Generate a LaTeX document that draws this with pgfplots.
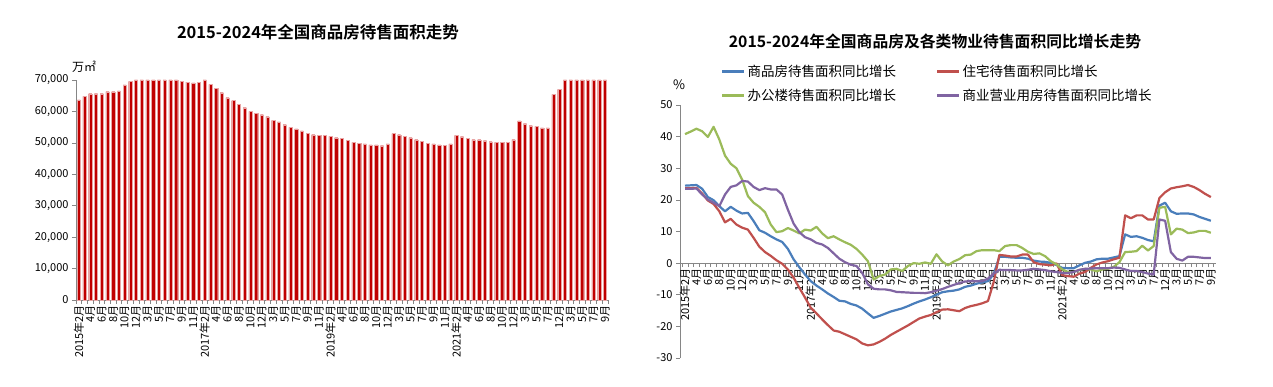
\documentclass[border=0pt]{standalone}
\usepackage{pgfplots}
\pgfplotsset{compat=1.18}
\usepackage{fontspec}
\setmainfont{Noto Sans CJK SC}[BoldFont={Noto Sans CJK SC Bold}]
\definecolor{barred}{RGB}{192,0,0}
\definecolor{sblue}{RGB}{74,126,187}
\definecolor{sred}{RGB}{192,80,77}
\definecolor{sgreen}{RGB}{155,187,89}
\definecolor{spurple}{RGB}{128,100,162}
\definecolor{axgray}{RGB}{134,134,134}
\begin{document}
\begin{tikzpicture}[x=1pt,y=1pt]
\path (0,0) rectangle (1273,386);
% ---------------- left chart
\begin{axis}[at={(76pt,86pt)}, anchor=south west, scale only axis,
  width=533pt, height=220pt,
  xmin=-0.5, xmax=92.7, ymin=0, ymax=70000,
  axis x line*=bottom, axis y line*=left,
  axis line style={draw=axgray, line width=0.8pt},
  ytick={0,10000,...,70000}, scaled y ticks=false,
  yticklabel style={font=\fontsize{11}{11}\selectfont, /pgf/number format/fixed, /pgf/number format/1000 sep={,}, /pgf/number format/assume math mode=true},
  xtick={0,2,...,92},
  xticklabels={2015年2月,4月,6月,8月,10月,12月,3月,5月,7月,9月,11月,
    2017年2月,4月,6月,8月,10月,12月,3月,5月,7月,9月,11月,
    2019年2月,4月,6月,8月,10月,12月,3月,5月,7月,9月,11月,
    2021年2月,4月,6月,8月,10月,12月,3月,5月,7月,12月,3月,5月,7月,9月},
  xticklabel style={rotate=90, anchor=east, font=\fontsize{11}{11}\selectfont, inner sep=1pt},
  minor xtick={-0.5,0.5,...,92.5},
  major x tick style={draw=none},
  tick style={draw=axgray, line width=0.6pt},
  tick align=outside, major tick length=4pt, minor tick length=4pt,
  clip=true]
\addplot[ybar, bar width=3.2pt, fill=barred, draw=barred!35, line width=0.3pt] coordinates {
(0,63700)(1,64800)(2,65650)(3,65650)(4,65650)(5,66290)(6,66290)(7,66500)(8,68410)(9,69580)
(10,70000)(11,70000)(12,70000)(13,70000)(14,70000)(15,70000)(16,70000)(17,70000)(18,69580)(19,69360)
(20,69050)(21,69360)(22,70000)(23,68620)(24,67350)(25,65970)(26,64380)(27,63430)(28,62260)(29,61200)
(30,60030)(31,59400)(32,58970)(33,58330)(34,57170)(35,56640)(36,55790)(37,54940)(38,54410)(39,53780)
(40,52930)(41,52610)(42,52400)(43,52400)(44,52080)(45,51650)(46,51340)(47,50810)(48,50170)(49,49850)
(50,49640)(51,49320)(52,49320)(53,49110)(54,49640)(55,52930)(56,52610)(57,52180)(58,51650)(59,51020)
(60,50490)(61,49850)(62,49640)(63,49320)(64,49220)(65,49640)(66,52400)(67,51970)(68,51340)(69,51020)
(70,51020)(71,50700)(72,50380)(73,50170)(74,50170)(75,50170)(76,51020)(77,56960)(78,56110)(79,55470)
(80,55260)(81,54730)(82,54730)(83,65440)(84,67030)(85,70000)(86,70000)(87,70000)(88,70000)(89,70000)
(90,70000)(91,70000)(92,70000)};
\end{axis}
\node[font=\fontsize{16.5}{16.5}\selectfont\bfseries] at (318,354) {2015-2024年全国商品房待售面积走势};
\node[font=\fontsize{12}{12}\selectfont] at (84,319) {万㎡};
% ---------------- right chart
\begin{axis}[at={(680pt,28pt)}, anchor=south west, scale only axis,
  width=536pt, height=253pt,
  xmin=-0.875, xmax=92.9, ymin=-30, ymax=50,
  axis x line*=middle, axis y line*=left,
  axis line style={draw=axgray, line width=0.8pt},
  ytick={-30,-20,...,50},
  yticklabel style={font=\fontsize{11}{11}\selectfont, /pgf/number format/assume math mode=true},
  xtick={0,2,...,92},
  xticklabels={2015年2月,4月,6月,8月,10月,12月,3月,5月,7月,9月,11月,
    2017年2月,4月,6月,8月,10月,12月,3月,5月,7月,9月,11月,
    2019年2月,4月,6月,8月,10月,12月,3月,5月,7月,9月,11月,
    2021年2月,4月,6月,8月,10月,12月,3月,5月,7月,12月,3月,5月,7月,9月},
  xticklabel style={rotate=90, anchor=east, font=\fontsize{11}{11}\selectfont, inner sep=1pt},
  minor xtick={-0.5,0.5,...,92.5},
  major x tick style={draw=none},
  tick style={draw=axgray, line width=0.6pt},
  tick align=outside, major tick length=4pt, minor tick length=4pt,
  legend columns=2,
  legend cell align=left,
  legend style={at={(axis description cs:0.071,1.175)}, anchor=north west, draw=none, fill=none,
    font=\fontsize{13.5}{15}\selectfont, row sep=7pt,
    /tikz/every even column/.append style={column sep=38pt}},
  legend image code/.code={\draw[#1, line width=2.4pt] (0pt,0pt) -- (22pt,0pt);},
  every axis plot/.append style={line width=2.2pt, line join=round}]
\addplot[sblue, mark=none] coordinates {
(0,24.5)(1,24.6)(2,24.7)(3,23.5)(4,20.9)(5,19.9)(6,18.0)(7,16.4)(8,17.8)(9,16.6)
(10,15.7)(11,15.9)(12,13.3)(13,10.4)(14,9.6)(15,8.5)(16,7.5)(17,6.7)(18,4.5)(19,1.2)
(20,-1.3)(21,-3.6)(22,-5.7)(23,-7.1)(24,-8.3)(25,-9.6)(26,-10.7)(27,-11.9)(28,-12.1)(29,-12.9)
(30,-13.4)(31,-14.4)(32,-15.9)(33,-17.3)(34,-16.7)(35,-16.0)(36,-15.3)(37,-14.8)(38,-14.3)(39,-13.6)
(40,-12.8)(41,-12.1)(42,-11.5)(43,-10.8)(44,-10.0)(45,-9.2)(46,-8.9)(47,-8.7)(48,-8.3)(49,-7.5)
(50,-7.1)(51,-6.5)(52,-6.1)(53,-5.7)(54,-3.5)(55,2.0)(56,2.0)(57,1.8)(58,1.7)(59,1.7)
(60,1.4)(61,0.8)(62,0.5)(63,0.4)(64,0.1)(65,-0.6)(66,-1.5)(67,-1.6)(68,-1.6)(69,-0.7)
(70,0.1)(71,0.5)(72,1.2)(73,1.4)(74,1.4)(75,1.8)(76,2.2)(77,9.1)(78,8.3)(79,8.5)
(80,8.0)(81,7.3)(82,6.9)(83,18.2)(84,19.1)(85,16.4)(86,15.6)(87,15.7)(88,15.7)(89,15.4)
(90,14.6)(91,14.0)(92,13.4)};
\addlegendentry{商品房待售面积同比增长}
\addplot[sred, mark=none] coordinates {
(0,23.7)(1,23.7)(2,23.8)(3,22.0)(4,19.8)(5,18.7)(6,16.4)(7,12.9)(8,14.0)(9,12.2)
(10,11.2)(11,10.6)(12,8.0)(13,5.2)(14,3.5)(15,2.3)(16,0.9)(17,-0.2)(18,-2.0)(19,-4.6)
(20,-7.8)(21,-10.9)(22,-14.1)(23,-15.9)(24,-17.8)(25,-19.6)(26,-21.3)(27,-21.7)(28,-22.5)(29,-23.3)
(30,-24.1)(31,-25.4)(32,-26.0)(33,-25.7)(34,-24.9)(35,-23.9)(36,-22.7)(37,-21.7)(38,-20.7)(39,-19.7)
(40,-18.6)(41,-17.5)(42,-16.9)(43,-16.4)(44,-15.5)(45,-14.7)(46,-14.6)(47,-14.9)(48,-15.2)(49,-14.2)
(50,-13.6)(51,-13.2)(52,-12.7)(53,-12.0)(54,-6.0)(55,2.6)(56,2.4)(57,2.1)(58,2.1)(59,2.7)
(60,2.7)(61,0.3)(62,-0.3)(63,-0.5)(64,-0.7)(65,-0.1)(66,-3.8)(67,-4.1)(68,-4.3)(69,-3.3)
(70,-2.8)(71,-1.5)(72,-0.4)(73,0.2)(74,0.6)(75,1.2)(76,1.7)(77,15.1)(78,14.2)(79,15.1)
(80,15.1)(81,13.8)(82,13.8)(83,20.6)(84,22.4)(85,23.6)(86,24.0)(87,24.3)(88,24.7)(89,24.1)
(90,23.1)(91,21.9)(92,20.9)};
\addlegendentry{住宅待售面积同比增长}
\addplot[sgreen, mark=none] coordinates {
(0,40.8)(1,41.6)(2,42.5)(3,41.7)(4,39.9)(5,43.1)(6,39.1)(7,34.0)(8,31.4)(9,30.0)
(10,26.4)(11,21.2)(12,19.1)(13,17.8)(14,16.1)(15,12.2)(16,9.8)(17,10.1)(18,11.1)(19,10.3)
(20,9.4)(21,10.6)(22,10.3)(23,11.5)(24,9.4)(25,7.9)(26,8.5)(27,7.5)(28,6.6)(29,5.8)
(30,4.5)(31,2.7)(32,0.6)(33,-5.2)(34,-4.1)(35,-3.6)(36,-2.0)(37,-1.8)(38,-2.5)(39,-0.9)
(40,0.0)(41,-0.2)(42,0.2)(43,-0.2)(44,2.8)(45,0.5)(46,-0.7)(47,0.5)(48,1.3)(49,2.5)
(50,2.7)(51,3.8)(52,4.1)(53,4.1)(54,4.1)(55,3.8)(56,5.4)(57,5.7)(58,5.7)(59,4.8)
(60,3.6)(61,2.9)(62,3.1)(63,2.2)(64,0.6)(65,-0.4)(66,-2.0)(67,-2.8)(68,-2.8)(69,-2.2)
(70,-1.8)(71,-2.0)(72,-2.6)(73,-2.0)(74,-1.8)(75,-1.2)(76,0.3)(77,3.5)(78,3.6)(79,3.8)
(80,5.5)(81,4.0)(82,5.4)(83,17.5)(84,17.8)(85,9.1)(86,10.9)(87,10.6)(88,9.5)(89,9.7)
(90,10.2)(91,10.2)(92,9.6)};
\addlegendentry{办公楼待售面积同比增长}
\addplot[spurple, mark=none] coordinates {
(0,23.5)(1,23.5)(2,23.6)(3,21.7)(4,20.1)(5,19.1)(6,18.0)(7,21.7)(8,24.1)(9,24.6)
(10,26.0)(11,25.8)(12,24.1)(13,23.1)(14,23.7)(15,23.3)(16,23.3)(17,21.7)(18,16.9)(19,12.5)
(20,9.8)(21,8.2)(22,7.5)(23,6.4)(24,5.9)(25,4.8)(26,3.1)(27,1.4)(28,0.3)(29,-0.5)
(30,-0.9)(31,-3.1)(32,-6.7)(33,-8.1)(34,-8.3)(35,-8.3)(36,-8.6)(37,-9.1)(38,-9.2)(39,-9.3)
(40,-9.4)(41,-9.4)(42,-9.5)(43,-9.2)(44,-8.7)(45,-8.2)(46,-7.5)(47,-6.9)(48,-6.3)(49,-5.8)
(50,-5.7)(51,-5.7)(52,-5.7)(53,-4.9)(54,-3.3)(55,-2.1)(56,-2.2)(57,-2.2)(58,-2.3)(59,-2.3)
(60,-2.1)(61,-1.8)(62,-2.0)(63,-2.2)(64,-2.6)(65,-2.8)(66,-3.1)(67,-3.1)(68,-2.8)(69,-2.1)
(70,-1.8)(71,-1.7)(72,-1.6)(73,-1.6)(74,-1.6)(75,-1.4)(76,-1.5)(77,-2.0)(78,-2.5)(79,-2.5)
(80,-2.8)(81,-3.3)(82,-3.6)(83,13.8)(84,13.4)(85,3.5)(86,1.4)(87,0.8)(88,2.0)(89,2.0)
(90,1.8)(91,1.6)(92,1.6)};
\addlegendentry{商业营业用房待售面积同比增长}
\end{axis}
\node[font=\fontsize{15.8}{15.8}\selectfont\bfseries] at (935,345) {2015-2024年全国商品房及各类物业待售面积同比增长走势};
\node[font=\fontsize{13}{13}\selectfont] at (679,301) {\%};
\end{tikzpicture}
\end{document}
